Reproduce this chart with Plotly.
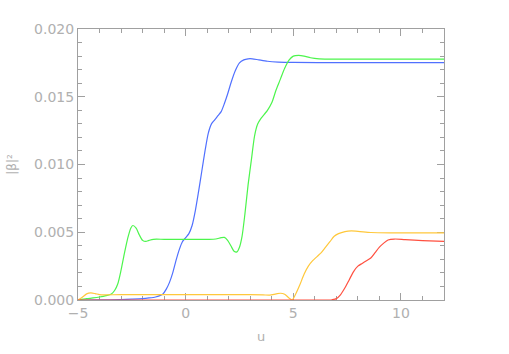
import plotly.graph_objects as go

# ---- data ----
u_blue = [-5, -4, -3, -2.5, -2, -1.7, -1.4, -1.2, -1.05, -0.9, -0.75, -0.6, -0.45, -0.3, -0.15,
          0.0, 0.15, 0.3, 0.45, 0.6, 0.75, 0.9, 1.05, 1.2, 1.35, 1.5, 1.65, 1.8, 1.95, 2.1,
          2.3, 2.5, 2.7, 2.9, 3.1, 3.4, 3.8, 4.3, 5, 7, 12]
v_blue = [0, 0.00001, 0.00003, 0.00006, 0.0001, 0.00015, 0.00022, 0.00032, 0.00045, 0.0008,
          0.0013, 0.002, 0.0029, 0.0037, 0.0043,
          0.0046, 0.0049, 0.0055, 0.0066, 0.008, 0.0095, 0.011, 0.0123, 0.013, 0.0133, 0.0136,
          0.0139, 0.0145, 0.0152, 0.016,
          0.0169, 0.0175, 0.01772, 0.0178, 0.0178, 0.01772, 0.01762, 0.01756, 0.01753, 0.01752, 0.01752]

u_green = [-5, -4.6, -4.3, -4.0, -3.7, -3.45, -3.3, -3.15, -3.0, -2.85, -2.7, -2.55, -2.45,
           -2.3, -2.15, -2.0, -1.85, -1.7, -1.5, -1.0, 0, 1.0, 1.4, 1.65, 1.8, 1.95, 2.1,
           2.25, 2.38, 2.5, 2.62, 2.75, 2.9, 3.05, 3.2, 3.35, 3.5, 3.65, 3.8, 4.0, 4.2, 4.4,
           4.6, 4.8, 5.0, 5.25, 5.5, 5.8, 6.2, 7, 12]
v_green = [0, 0.0001, 0.00015, 0.00022, 0.00032, 0.00045, 0.0007, 0.0012, 0.0022, 0.0034,
           0.0045, 0.0053, 0.0055, 0.0053, 0.0048, 0.0044, 0.00432, 0.0044, 0.00448, 0.00448,
           0.00448, 0.00448, 0.0045, 0.0046, 0.00462, 0.0044, 0.0040, 0.0036, 0.00355, 0.0039,
           0.0047, 0.0063, 0.0085, 0.0103, 0.0121, 0.013, 0.0134, 0.0137, 0.014, 0.01455,
           0.0155, 0.0163, 0.0171, 0.0177, 0.018, 0.01805, 0.018, 0.01788, 0.0178, 0.01777, 0.01777]

u_yellow = [-5, -4.8, -4.6, -4.4, -4.2, -4.0, -3.8, -3, 0, 3, 3.6, 3.9, 4.2, 4.4, 4.6, 4.8,
            4.95, 5.1, 5.3, 5.5, 5.7, 5.9, 6.1, 6.3, 6.5, 6.7, 6.9, 7.1, 7.4, 7.7, 8.1, 8.6,
            9.5, 12]
v_yellow = [0, 0.0002, 0.00045, 0.00052, 0.00047, 0.0004, 0.00038, 0.0004, 0.0004, 0.0004,
            0.00038, 0.00036, 0.00045, 0.0005, 0.00042, 0.00015, 0, 0.0004, 0.0011, 0.0019,
            0.0025, 0.0029, 0.0032, 0.0035, 0.0039, 0.0043, 0.0047, 0.0049, 0.00505, 0.0051,
            0.00505, 0.00498, 0.00495, 0.00495]

u_red = [-5, 0, 6.7, 6.8, 7.0, 7.2, 7.4, 7.6, 7.8, 8.0, 8.2, 8.4, 8.6, 8.8, 9.0, 9.2, 9.4,
         9.7, 10.2, 11, 12]
v_red = [0, 0, 0, 0.00002, 0.0001, 0.0004, 0.0009, 0.0015, 0.0021, 0.0025, 0.0027, 0.0029,
         0.0031, 0.0035, 0.0039, 0.0042, 0.00443, 0.0045, 0.00445, 0.00438, 0.00432]

x_ticks = [-5, 0, 5, 10]
y_ticks = [0.000, 0.005, 0.010, 0.015, 0.020]
y_ticklabels = ["0.000", "0.005", "0.010", "0.015", "0.020"]

series = [
    (u_blue, v_blue, "#5070ff"),
    (u_green, v_green, "#4cf54c"),
    (u_yellow, v_yellow, "#ffc83c"),
    (u_red, v_red, "#ff5040"),
]

fig = go.Figure()
for xs, ys, col in series:
    fig.add_trace(go.Scatter(x=xs, y=ys, mode="lines",
                             line=dict(color=col, width=1.2, shape="spline", smoothing=0.7),
                             showlegend=False, hoverinfo="skip"))

axcol = "#a0a0a0"
txtcol = "#b0b0b0"
font = dict(family="DejaVu Sans", size=14, color=txtcol)

fig.update_layout(
    width=509, height=354,
    margin=dict(l=75, r=65, t=29, b=53),
    paper_bgcolor="white", plot_bgcolor="white",
    font=font,
    xaxis=dict(range=[-5, 12], tickvals=x_ticks, showgrid=False, zeroline=False,
               showline=True, linecolor=axcol, linewidth=1, mirror="ticks",
               ticks="inside", ticklen=7, tickcolor=axcol, tickwidth=1,
               minor=dict(dtick=1, ticks="inside", ticklen=4, tickcolor=axcol, showgrid=False),
               tickfont=font, layer="below traces",
               title=dict(text="u", font=dict(family="DejaVu Sans", size=13, color=txtcol), standoff=12)),
    yaxis=dict(range=[0, 0.020], tickvals=y_ticks, ticktext=y_ticklabels, showgrid=False,
               zeroline=False, showline=True, linecolor=axcol, linewidth=1, mirror="ticks",
               ticks="inside", ticklen=7, tickcolor=axcol, tickwidth=1,
               minor=dict(dtick=0.001, ticks="inside", ticklen=4, tickcolor=axcol, showgrid=False),
               tickfont=font, layer="below traces",
               title=dict(text="|β|²", font=dict(family="DejaVu Sans", size=12, color=txtcol), standoff=14)),
)

fig.write_html("out.html", config={"displayModeBar": False, "staticPlot": True},
               post_script="document.body.style.margin='0';document.body.style.overflow='hidden';")
